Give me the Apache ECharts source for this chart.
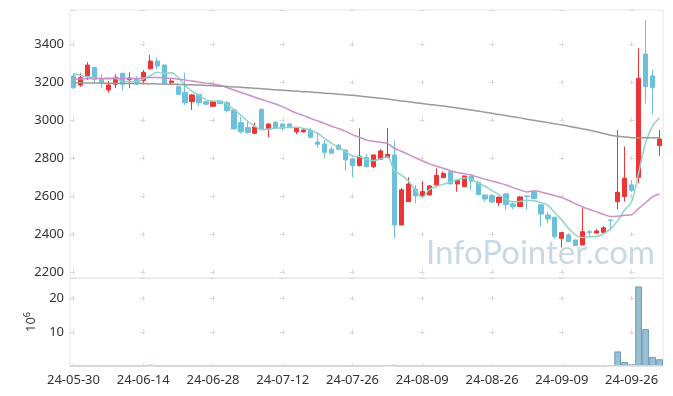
<!DOCTYPE html>
<html>
<head>
<meta charset="utf-8">
<script src="https://cdn.jsdelivr.net/npm/echarts@6/dist/echarts.min.js"></script>
<style>
html,body{margin:0;padding:0;background:#fff;}
#c{width:673px;height:396px;}
</style>
</head>
<body>
<div id="c"></div>
<script>
var dates = ['24-05-30','24-05-31','24-06-03','24-06-04','24-06-05','24-06-07','24-06-10','24-06-11','24-06-12','24-06-13',
'24-06-14','24-06-17','24-06-18','24-06-19','24-06-20','24-06-21','24-06-24','24-06-25','24-06-26','24-06-27',
'24-06-28','24-07-01','24-07-02','24-07-03','24-07-04','24-07-05','24-07-08','24-07-09','24-07-10','24-07-11',
'24-07-12','24-07-15','24-07-16','24-07-17','24-07-18','24-07-19','24-07-22','24-07-23','24-07-24','24-07-25',
'24-07-26','24-07-29','24-07-30','24-07-31','24-08-01','24-08-02','24-08-05','24-08-06','24-08-07','24-08-08',
'24-08-09','24-08-12','24-08-13','24-08-14','24-08-16','24-08-19','24-08-20','24-08-21','24-08-22','24-08-23',
'24-08-26','24-08-27','24-08-28','24-08-29','24-08-30','24-09-02','24-09-03','24-09-04','24-09-05','24-09-06',
'24-09-09','24-09-10','24-09-11','24-09-12','24-09-13','24-09-19','24-09-20','24-09-23','24-09-24','24-09-25',
'24-09-26','24-09-27','24-09-30','24-10-02','24-10-04'];

var opens = [3232,3184,3232,3277,3219,3158,3188,3246,3212,3216,
3207,3270,3310,3289,3196,3175,3146,3096,3135,3096,
3072,3100,3091,3053,2986,2960,2930,3056,2951,2988,
2979,2979,2938,2937,2947,2884,2874,2846,2867,2842,
2795,2760,2802,2754,2793,2802,2816,2447,2570,2635,
2600,2605,2658,2696,2728,2663,2649,2705,2672,2605,
2602,2565,2611,2558,2544,2600,2623,2553,2500,2488,
2377,2395,2368,2342,2412,2405,2408,2474,2570,2597,
2658,2698,3347,3232,2865];
var closes = [3170,3223,3289,3214,3193,3184,3225,3188,3221,3189,
3251,3310,3284,3193,3205,3135,3091,3132,3091,3083,
3098,3086,3049,2953,2938,2933,2963,2951,2979,2956,
2956,2960,2958,2947,2909,2872,2830,2825,2846,2790,
2760,2809,2754,2816,2837,2818,2447,2632,2663,2600,
2623,2653,2709,2718,2663,2681,2705,2678,2607,2584,
2568,2594,2555,2544,2595,2597,2586,2505,2479,2386,
2407,2360,2338,2412,2407,2416,2432,2471,2619,2693,
2630,3219,3175,3170,2900];
var lows = [3163,3175,3210,3196,3170,3144,3167,3154,3167,3187,
3196,3265,3267,3184,3188,3130,3079,3053,3075,3080,
3070,3084,3039,2950,2930,2930,2925,2948,2909,2953,
2944,2958,2925,2935,2905,2853,2798,2820,2842,2733,
2698,2755,2749,2746,2790,2800,2377,2445,2568,2561,
2598,2603,2655,2694,2660,2622,2647,2630,2605,2570,
2561,2547,2526,2530,2542,2530,2584,2438,2456,2375,
2329,2358,2336,2340,2383,2399,2405,2418,2530,2570,
2620,2667,3088,3030,2812];
var highs = [3246,3246,3304,3280,3240,3205,3240,3248,3251,3232,
3263,3342,3328,3292,3215,3196,3249,3135,3137,3098,
3100,3105,3100,3062,3017,2996,2986,3060,2982,2993,
2982,2982,2960,2956,2960,2935,2895,2860,2874,2845,
2798,2956,2820,2818,2846,2956,2891,2642,2698,2658,
2679,2656,2746,2728,2731,2684,2708,2707,2681,2607,
2609,2596,2613,2567,2600,2601,2626,2555,2517,2490,
2409,2404,2370,2535,2421,2425,2442,2475,2947,2860,
2684,3377,3526,3263,2947];

var ma5 = [3245,3236,3228,3222,3218,3221,3221,3201,3202,3201,
3215,3232,3251,3245,3249,3225,3182,3151,3131,3106,
3099,3098,3081,3054,3025,2992,2967,2948,2953,2956,
2961,2960,2962,2955,2946,2929,2903,2877,2856,2833,
2810,2806,2792,2786,2795,2807,2734,2710,2679,2632,
2593,2634,2650,2661,2673,2685,2695,2689,2667,2651,
2628,2606,2582,2569,2571,2577,2575,2565,2552,2511,
2473,2427,2394,2381,2385,2387,2401,2428,2469,2526,
2569,2720,2880,2968,3010];
var ma20 = [3215,3216,3218,3218,3218,3217,3218,3218,3219,3219,
3221,3223,3224,3222,3220,3215,3210,3205,3199,3194,
3190,3183,3171,3158,3145,3133,3120,3108,3096,3084,
3069,3052,3036,3023,3008,2995,2982,2967,2955,2940,
2923,2909,2894,2888,2883,2877,2851,2835,2819,2801,
2785,2769,2757,2746,2733,2724,2717,2710,2698,2688,
2678,2668,2658,2644,2632,2621,2628,2621,2612,2602,
2591,2576,2558,2542,2529,2516,2503,2492,2493,2498,
2501,2533,2564,2595,2610];
var ma120 = [3196,3196,3195,3195,3194,3194,3193,3193,3192,3192,
3191,3191,3190,3189,3188,3187,3186,3185,3184,3182,
3180,3178,3176,3174,3172,3170,3167,3165,3162,3159,
3157,3154,3152,3149,3147,3144,3141,3139,3136,3133,
3130,3126,3122,3118,3114,3110,3105,3100,3096,3091,
3087,3082,3078,3073,3068,3063,3058,3053,3047,3041,
3035,3029,3023,3017,3011,3004,2998,2992,2986,2980,
2974,2967,2960,2953,2946,2938,2929,2920,2914,2910,
2907,2906,2906,2906,2906];
// volume in millions of shares
var volumes = [0.01,0.01,0.01,0.01,0.01,0.01,0.01,0.01,0.01,0.01,
0.02,0.35,0.01,0.01,0.01,0.01,0.01,0.01,0.01,0.01,
0.01,0.01,0.01,0.01,0.01,0.01,0.01,0.01,0.01,0.01,
0.01,0.01,0.01,0.01,0.01,0.01,0.01,0.01,0.01,0.01,
0.01,0.01,0.01,0.01,0.01,0.30,0.35,0.02,0.01,0.01,
0.01,0.01,0.01,0.01,0.01,0.01,0.01,0.01,0.01,0.01,
0.01,0.01,0.01,0.01,0.01,0.01,0.01,0.01,0.01,0.01,
0.01,0.01,0.01,0.01,0.01,0.01,0.01,0.30,4.3,1.2,
0.5,23.5,10.9,2.7,2.0];

var candles = dates.map(function(d,i){return [opens[i],closes[i],lows[i],highs[i]];});

var chart = echarts.init(document.getElementById('c'), null, {renderer:'canvas'});
var labelFont = {color:'#333', fontSize:13, fontFamily:'Noto Sans'};
var crossColor = '#d9d9d9';
chart.setOption({
  animation:false,
  backgroundColor:'#fff',
  grid:[
    {left:70, right:10, top:10, height:268, show:true, borderColor:'#e6e6e6', borderWidth:1},
    {left:70, right:10, top:278, height:88, show:true, borderColor:'#e6e6e6', borderWidth:1}
  ],
  xAxis:[
    {type:'category', gridIndex:0, data:dates, boundaryGap:true,
     axisLine:{show:false}, axisTick:{show:false}, axisLabel:{show:false},
     splitLine:{show:true, interval:9, alignWithLabel:true,
       lineStyle:{color:crossColor, width:1, type:[5,33], dashOffset:6.5}}},
    {type:'category', gridIndex:1, data:dates, boundaryGap:true, z:5,
     axisLine:{show:true, lineStyle:{color:'#e3e3e3', width:1.5}}, axisTick:{show:false},
     axisLabel:Object.assign({interval:9, margin:8}, labelFont),
     splitLine:{show:true, interval:9, alignWithLabel:true,
       lineStyle:{color:crossColor, width:1, type:[5,28.85], dashOffset:16.2}}}
  ],
  yAxis:[
    {type:'value', gridIndex:0, min:2168, max:3579, splitNumber:7, scale:true,
     axisLine:{show:false}, axisTick:{show:false},
     splitLine:{show:true, lineStyle:{color:crossColor, width:1, type:[5,64.9], dashOffset:0}},
     axisLabel:Object.assign({showMinLabel:false, showMaxLabel:false, margin:6,
       formatter:function(v){return String(v);}}, labelFont)},
    {type:'value', gridIndex:1, min:0, max:26, interval:10,
     axisLine:{show:false}, axisTick:{show:false},
     splitLine:{show:true, lineStyle:{color:crossColor, width:1, type:[5,64.9], dashOffset:0}},
     axisLabel:Object.assign({showMinLabel:false, showMaxLabel:false, margin:6}, labelFont),
     name:'10{sup|6}', nameLocation:'middle', nameRotate:90, nameGap:27,
     nameTextStyle:{color:'#333', fontSize:13, fontFamily:'Noto Sans',
       rich:{sup:{fontSize:9, padding:[0,0,8,0], color:'#333', fontFamily:'Noto Sans'}}}}
  ],
  graphic:[
    {type:'text', right:18, top:237, z:0,
     style:{text:'InfoPointer.com', fill:'#c9d9e4', font:'33px Lato'}}
  ],
  series:[
    {type:'candlestick', xAxisIndex:0, yAxisIndex:0, data:candles, barWidth:'68%', z:3,
     itemStyle:{color:'#ec3535', color0:'#6cc0db', borderColor:'#ec3535', borderColor0:'#6cc0db', borderWidth:1}},
    {type:'line', xAxisIndex:0, yAxisIndex:0, data:ma5, showSymbol:false, smooth:0.3, z:4,
     lineStyle:{color:'#8fd3c9', width:1.5}},
    {type:'line', xAxisIndex:0, yAxisIndex:0, data:ma20, showSymbol:false, smooth:0.3, z:4,
     lineStyle:{color:'#cc8fc9', width:1.5}},
    {type:'line', xAxisIndex:0, yAxisIndex:0, data:ma120, showSymbol:false, smooth:0.3, z:4,
     lineStyle:{color:'#9a9a9a', width:1.5}},
    {type:'bar', xAxisIndex:1, yAxisIndex:1, data:volumes, barWidth:'96%',
     itemStyle:{color:'rgba(120,170,196,0.75)', borderColor:'#6a9db6', borderWidth:1}}
  ]
});
</script>
</body>
</html>
